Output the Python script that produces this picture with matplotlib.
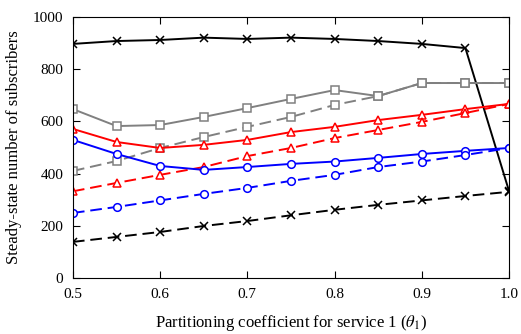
import matplotlib
matplotlib.use("Agg")
import matplotlib.pyplot as plt

plt.rcParams['font.family'] = ['Liberation Serif', 'DejaVu Serif']
plt.rcParams['mathtext.fontset'] = 'stix'

theta = [0.5, 0.55, 0.6, 0.65, 0.7, 0.75, 0.8, 0.85, 0.9, 0.95, 1.0]

black_solid = [897, 908, 912, 921, 916, 921, 916, 908, 897, 881, 333]
black_dashed = [138, 157, 176, 199, 218, 240, 261, 280, 297, 314, 330]
gray_solid = [647, 582, 586, 617, 651, 686, 720, 697, 747, 747, 747]
gray_dashed = [410, 448, 498, 540, 579, 617, 663, 697, 747, 747, 747]
red_solid = [571, 521, 498, 510, 529, 559, 579, 605, 625, 647, 667]
red_dashed = [332, 364, 395, 425, 467, 498, 536, 567, 598, 632, 667]
blue_solid = [529, 475, 429, 414, 425, 437, 446, 460, 475, 487, 498]
blue_dashed = [249, 272, 297, 322, 345, 372, 395, 425, 446, 471, 498]

fig = plt.figure(figsize=(5.21, 3.34), dpi=100)
ax = fig.add_axes([0.140, 0.168, 0.837, 0.781])

lw = 1.4
series = [
    (black_solid, 'k', '-', 'x'),
    (black_dashed, 'k', '--', 'x'),
    (gray_solid, '#808080', '-', 's'),
    (gray_dashed, '#808080', '--', 's'),
    (red_solid, 'r', '-', '^'),
    (red_dashed, 'r', '--', '^'),
    (blue_solid, 'b', '-', 'o'),
    (blue_dashed, 'b', '--', 'o'),
]
for vals, c, ls, m in series:
    ax.plot(theta, vals, color=c, linestyle=ls, marker=m, lw=lw,
            markersize=5.5 if m != 'x' else 5.5,
            markerfacecolor='white' if m != 'x' else c,
            markeredgecolor=c, markeredgewidth=1.1,
            dashes=(6, 3) if ls == '--' else (None, None))

ax.set_xlim(0.5, 1.0)
ax.set_ylim(0, 1000)
ax.set_xticks([0.5, 0.6, 0.7, 0.8, 0.9, 1.0])
ax.set_xticklabels(['0.5', '0.6', '0.7', '0.8', '0.9', '1.0'])
ax.set_yticks([0, 200, 400, 600, 800, 1000])
ax.tick_params(direction='in', top=True, right=True, labelsize=11, length=5, pad=7)
ax.set_xlabel(r'Partitioning coefficient for service 1 ($\theta_1$)', fontsize=12, labelpad=9)
ax.set_ylabel('Steady-state number of subscribers', fontsize=12, labelpad=8)

fig.savefig('out.png', dpi=100)
